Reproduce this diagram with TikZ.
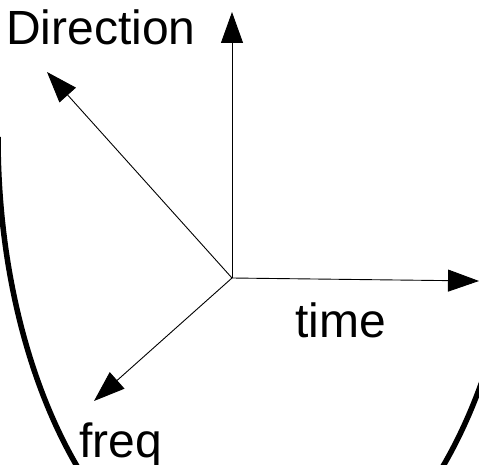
\documentclass[tikz,border=0pt]{standalone}
\usepackage{fontspec}
\setmainfont{Liberation Sans}
\usetikzlibrary{arrows.meta}

\begin{document}
\begin{tikzpicture}[x=1pt, y=1pt]
    \definecolor{lineColour}{HTML}{000000}
    \def\labelSize{\fontsize{48}{57}\selectfont}

    \tikzset{
        axis/.style={draw=lineColour, line width=0.9pt, -{Triangle[length=31pt,width=22pt]}},
        label/.style={anchor=base west, inner sep=0pt, font=\labelSize}
    }

    % Picture frame
    \useasboundingbox (0,0) rectangle (479,464);
    \clip (0,0) rectangle (479,464);

    % Origin and axis tips
    \coordinate (O) at (232,186);
    \coordinate (D) at (232,452);
    \coordinate (T) at (479,183);
    \coordinate (U) at (47,392);
    \coordinate (F) at (94,63);

    % Draw axes
    \draw[axis] (O) -- (D);
    \draw[axis] (O) -- (T);
    \draw[axis] (O) -- (U);
    \draw[axis] (O) -- (F);

    % Bowl
    \draw[draw=lineColour, line width=5.5pt] (-2,327) arc[start angle=180, end angle=360, x radius=262, y radius=460];

    % Labels
    \node[label] (dirLabel) at (6,419) {Direction};
    \node[label] (timeLabel) at (295,127) {time};
    \node[label] (freqLabel) at (79,7) {freq};

\end{tikzpicture}
\end{document}
